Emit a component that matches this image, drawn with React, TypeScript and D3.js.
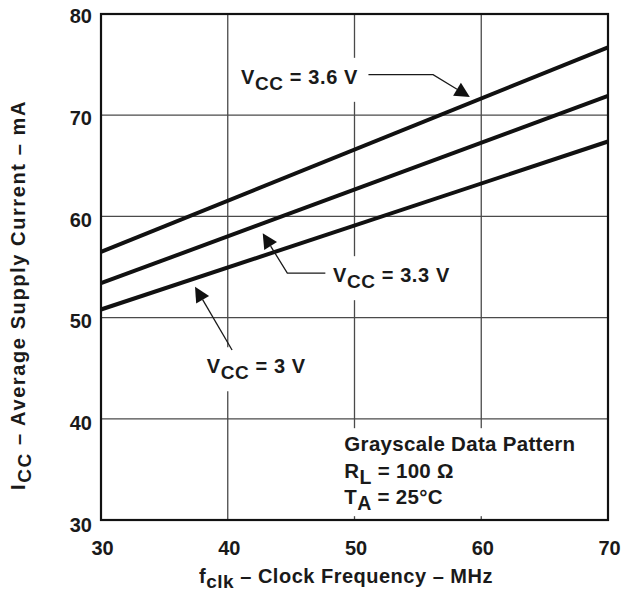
import * as d3 from "d3";
import { useEffect, useRef } from "react";

// chart data
const freqTicks = [30, 40, 50, 60, 70];
const currentTicks = [30, 40, 50, 60, 70, 80];
const supplyLabels = ["3.6 V", "3.3 V", "3 V"];
const freqEnds = [30, 70];
const iccAtStart = [56.5, 53.4, 50.8];
const iccAtEnd = [76.7, 71.9, 67.4];
const conditionLines = ["Grayscale Data Pattern", "R|L| = 100 Ω", "T|A| = 25°C"];

const W = 625;
const H = 592;
const margin = { top: 14, right: 17, bottom: 72, left: 101 };
const FONT = "'Liberation Sans', Arial, Helvetica, sans-serif";

// label placement in data units (freq, mA): text anchor + leader path ending at arrow tip
const callouts = [
  { text: [41.05, 73.1], path: [[51.1, 74.0], [56.2, 74.0], [59.1, 71.8]] },
  { text: [48.3, 53.5], path: [[47.7, 54.4], [44.7, 54.4], [42.76, 58.33]] },
  { text: [38.34, 44.5], path: [[40.34, 46.8], [37.42, 53.05]] },
];

// text with a subscript part wrapped in |..|
const addRich = (sel: any, str: string, size: number, drop = 6) => {
  const parts = str.split("|");
  parts.forEach((p, i) => {
    if (!p) return;
    const sub = i % 2 === 1;
    sel
      .append("tspan")
      .attr("font-size", sub ? size * 0.95 : size)
      .attr("dy", sub ? drop : i > 0 ? -drop : 0)
      .text(p);
  });
};

// white box behind a text so the grid is broken there
const knockout = (g: any, text: any, pad: number) => {
  const b = text.node().getBBox();
  g.insert("rect", () => text.node())
    .attr("x", b.x - pad)
    .attr("y", b.y - pad)
    .attr("width", b.width + pad * 2)
    .attr("height", b.height + pad * 2)
    .attr("fill", "#fff");
};

const drawChart = (target: any) => {
  const root = d3.select(target);
  root.selectAll("*").remove();
  const svg = root
    .append("svg")
    .attr("width", W)
    .attr("height", H)
    .style("position", "absolute")
    .style("left", 0)
    .style("top", 0)
    .attr("font-family", FONT)
    .attr("font-weight", "bold")
    .attr("fill", "#1a1a1a");

  const x = d3
    .scaleLinear()
    .domain([30, 70])
    .range([margin.left, W - margin.right]);
  const y = d3
    .scaleLinear()
    .domain([30, 80])
    .range([H - margin.bottom, margin.top]);

  // grid
  const grid = svg.append("g").attr("stroke", "#4a4a4a").attr("stroke-width", 1.3);
  grid
    .selectAll("line.v")
    .data(freqTicks.slice(1, -1))
    .join("line")
    .attr("x1", (d) => x(d))
    .attr("x2", (d) => x(d))
    .attr("y1", y(30))
    .attr("y2", y(80));
  grid
    .selectAll("line.h")
    .data(currentTicks.slice(1, -1))
    .join("line")
    .attr("class", "h")
    .attr("x1", x(30))
    .attr("x2", x(70))
    .attr("y1", (d) => y(d))
    .attr("y2", (d) => y(d));

  // labels layer with white knockouts
  const ann = svg.append("g");

  // conditions box
  const cond = ann.append("g");
  conditionLines.forEach((s, i) => {
    const t = cond
      .append("text")
      .attr("x", x(49.2))
      .attr("y", y(36.8) + i * 26.5)
      .attr("font-size", 20.5)
      .attr("letter-spacing", 0.3);
    addRich(t, s, 20.5);
  });
  {
    const b = (cond.node() as any).getBBox();
    cond
      .insert("rect", ":first-child")
      .attr("x", b.x - 10)
      .attr("y", b.y - 4)
      .attr("width", b.width + 20)
      .attr("height", b.height + 6)
      .attr("fill", "#fff");
  }

  // curves
  const line = d3
    .line<number>()
    .x((_, i) => x(freqEnds[i]))
    .y((d) => y(d));
  svg
    .append("g")
    .selectAll("path")
    .data(supplyLabels.map((_, i) => [iccAtStart[i], iccAtEnd[i]]))
    .join("path")
    .attr("d", (d) => line(d))
    .attr("fill", "none")
    .attr("stroke", "#111")
    .attr("stroke-width", 4);

  // callouts
  callouts.forEach((c, i) => {
    const g = ann.append("g");
    const t = g
      .append("text")
      .attr("x", x(c.text[0]))
      .attr("y", y(c.text[1]))
      .attr("font-size", 20)
      .attr("letter-spacing", 0.6);
    addRich(t, "V|CC| = " + supplyLabels[i], 20);
    knockout(g, t, 8);

    const pts = c.path.map((p) => [x(p[0]), y(p[1])]);
    const n = pts.length;
    const tip = pts[n - 1];
    const prev = pts[n - 2];
    const dx = tip[0] - prev[0];
    const dy = tip[1] - prev[1];
    const len = Math.hypot(dx, dy);
    const ux = dx / len;
    const uy = dy / len;
    const hl = 15;
    const hw = 7.5;
    const base = [tip[0] - ux * hl, tip[1] - uy * hl];
    svg
      .append("path")
      .attr("d", d3.line()([...pts.slice(0, n - 1), base] as any))
      .attr("fill", "none")
      .attr("stroke", "#1a1a1a")
      .attr("stroke-width", 1.3);
    svg
      .append("path")
      .attr(
        "d",
        d3.line()([
          tip,
          [base[0] - uy * hw, base[1] + ux * hw],
          [base[0] + uy * hw, base[1] - ux * hw],
        ] as any) + "Z"
      )
      .attr("fill", "#111");
  });

  // frame
  svg
    .append("rect")
    .attr("x", x(30))
    .attr("y", y(80))
    .attr("width", x(70) - x(30))
    .attr("height", y(30) - y(80))
    .attr("fill", "none")
    .attr("stroke", "#111")
    .attr("stroke-width", 2.2);

  // tick labels
  svg
    .append("g")
    .selectAll("text")
    .data(currentTicks)
    .join("text")
    .attr("x", x(30) - 9)
    .attr("y", (d) => y(d) + 5 - (d - 30) * 0.06)
    .attr("dy", "0.35em")
    .attr("text-anchor", "end")
    .attr("font-size", 20)
    .text((d) => d);
  svg
    .append("g")
    .selectAll("text")
    .data(freqTicks)
    .join("text")
    .attr("x", (d) => x(d) + 1.5)
    .attr("y", y(30) + 35)
    .attr("text-anchor", "middle")
    .attr("font-size", 20)
    .text((d) => d);

  // axis titles
  const xt = svg
    .append("text")
    .attr("x", 346)
    .attr("y", 583)
    .attr("text-anchor", "middle")
    .attr("font-size", 20)
    .attr("letter-spacing", 0.5);
  addRich(xt, "f|clk| – Clock Frequency – MHz", 20, 5);

  const yt = svg
    .append("text")
    .attr("transform", `translate(25,295) rotate(-90)`)
    .attr("text-anchor", "middle")
    .attr("font-size", 20)
    .attr("letter-spacing", 1.6);
  addRich(yt, "I|CC| – Average Supply Current – mA", 20);
};

const App = () => {
  const ref = useRef<HTMLDivElement>(null);
  useEffect(() => {
    if (ref.current) drawChart(ref.current);
  }, []);
  return <div ref={ref} style={{ width: W, height: H }} />;
};

export default App;
